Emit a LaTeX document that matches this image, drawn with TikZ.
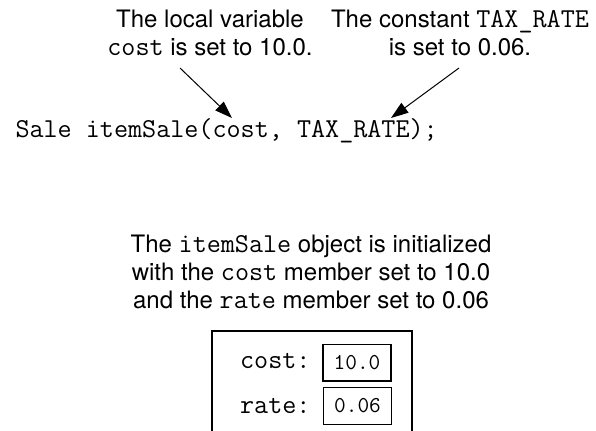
\documentclass[tikz,border=0pt]{standalone}
\usepackage{fontspec}
\setmainfont{TeX Gyre Heros}
\usetikzlibrary{arrows.meta}

\tikzset{every picture/.style={line width=0.75pt}}
\newcommand{\cd}[1]{{\fontsize{20.5}{21}\ttfamily #1}}
\tikzset{
  note/.style={align=center, inner sep=0pt, anchor=north, font=\fontsize{18}{21}\selectfont},
  codeline/.style={inner sep=0pt, anchor=base west, font=\fontsize{20.5}{21}\ttfamily},
  member/.style={inner sep=0pt, anchor=base east, font=\fontsize{20.5}{21}\ttfamily},
  valbox/.style={draw, line width=1pt, minimum width=51pt, minimum height=27.5pt, inner sep=0pt, font=\fontsize{17}{18}\ttfamily},
  pointer/.style={-{Triangle[length=13pt,width=9pt]}, line width=0.75pt}
}

\begin{document}
\begin{tikzpicture}[x=0.75pt,y=0.75pt,yscale=-1,xscale=1]
\useasboundingbox (0,0) rectangle (596,430);
\clip (0,0) rectangle (596,430);

% Text Node
\node (costnote) [note] at (210,9.5) {The local variable\\ \cd{cost} is set to 10.0.};
% Text Node
\node (ratenote) [note] at (460,9.5) {The constant \cd{TAX\_RATE}\\ is set to 0.06.};
% Text Node
\node (call) [codeline] at (15,137) {Sale itemSale(cost, TAX\_RATE);};

%Straight Lines
\coordinate (costtail) at (180,68);
\coordinate (costtip) at (232,118);
\draw [pointer] (costtail) -- (costtip);
%Straight Lines
\coordinate (ratetail) at (459,68);
\coordinate (ratetip) at (391,118);
\draw [pointer] (ratetail) -- (ratetip);

% Text Node
\node (initnote) [note] at (311,234.5) {The \cd{itemSale} object is initialized\\ with the \cd{cost} member set to 10.0\\ and the \cd{rate} member set to 0.06};

%Shape: Rectangle
\draw [line width=1pt] (212,331) rectangle (412,460);

% Text Node
\node (costlbl) [member] at (311,368) {cost:};
\node (costval) [valbox] at (357,362.5) {10.0};
% Text Node
\node (ratelbl) [member] at (311,413) {rate:};
\node (rateval) [valbox] at (357.5,406) {0.06};

\end{tikzpicture}
\end{document}
